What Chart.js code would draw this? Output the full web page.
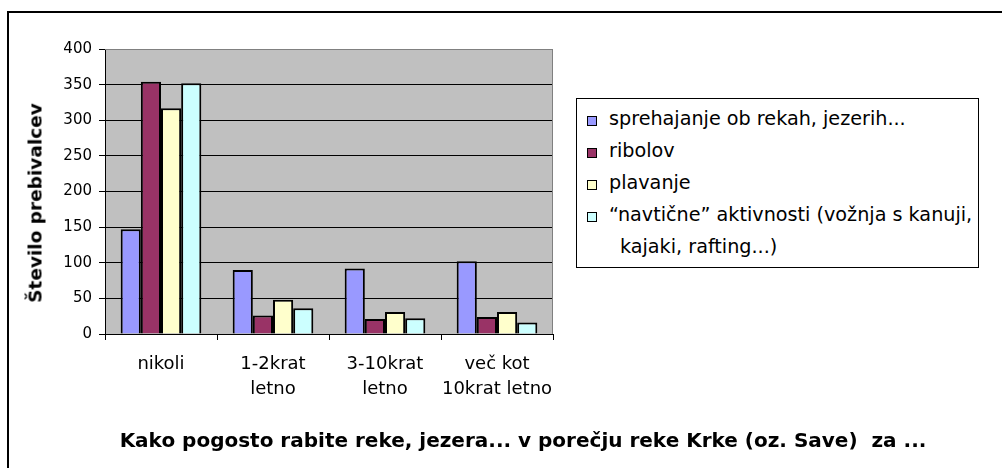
<!DOCTYPE html>
<html>
<head>
<meta charset="utf-8">
<script src="https://cdn.jsdelivr.net/npm/chart.js@4/dist/chart.umd.min.js"></script>
<style>
  body { margin: 0; background: #fff; overflow: hidden; }
  #wrap { position: relative; width: 1002px; height: 468px; overflow: hidden; font-family: "DejaVu Sans", sans-serif; }
  #frame { position: absolute; left: 7px; top: 11px; width: 2000px; height: 2000px; border: 2px solid #000; }
  #chart { position: absolute; left: 0; top: 0; }
  #legend { position: absolute; left: 576px; top: 98px; width: 403px; height: 170px; border: 1px solid #000; background: #fff; padding-top: 4px; box-sizing: border-box; }
  .leg-item { position: relative; padding-left: 32px; font-size: 19.2px; line-height: 32px; color: #000; white-space: nowrap; }
  .leg-box { position: absolute; left: 10px; top: 13px; width: 8px; height: 8px; border: 1px solid #000; }
  #xTitle { position: absolute; left: 0; width: 1046px; top: 428px; text-align: center; font-weight: bold; font-size: 20px; white-space: pre; }
  #yTitle { position: absolute; left: 35px; top: 203px; font-weight: bold; font-size: 18.5px; white-space: nowrap; transform: translate(-50%, -50%) rotate(-90deg); }
</style>
</head>
<body>
<div id="wrap">
  <div id="frame"></div>
  <canvas id="chart" width="1002" height="468"></canvas>
  <div id="legend"></div>
  <div id="xTitle"></div>
  <div id="yTitle"></div>
</div>
<script>
// DATA
var categories = ['nikoli', ['1-2krat', 'letno'], ['3-10krat', 'letno'], ['več kot', '10krat letno']];
var seriesNames = ['sprehajanje ob rekah, jezerih...', 'ribolov', 'plavanje', '“navtične” aktivnosti (vožnja s kanuji,\nkajaki, rafting...)'];
var sprehajanje = [147, 90, 92, 102];
var ribolov = [354, 26, 21, 24];
var plavanje = [317, 48, 31, 31];
var navticne = [352, 36, 22, 16];
var seriesColors = ['#9999FF', '#993366', '#FFFFCC', '#CCFFFF'];
var yTicks = [0, 50, 100, 150, 200, 250, 300, 350, 400];
var xTitleText = 'Kako pogosto rabite reke, jezera... v porečju reke Krke (oz. Save)  za ...';
var yTitleText = 'Število prebivalcev';

var seriesValues = [sprehajanje, ribolov, plavanje, navticne];

Chart.defaults.font.family = '"DejaVu Sans", sans-serif';
Chart.defaults.color = '#000';

// GRAY PLOT AREA WITH GRAY TOP/RIGHT EDGE
var plotArea = {
  id: 'plotArea',
  beforeDraw: function (chart) {
    var a = chart.chartArea;
    var ctx = chart.ctx;
    ctx.save();
    ctx.fillStyle = '#C0C0C0';
    ctx.fillRect(a.left, a.top, a.right - a.left, a.bottom - a.top);
    ctx.restore();
  },
  beforeDatasetsDraw: function (chart) {
    var a = chart.chartArea;
    var ctx = chart.ctx;
    ctx.save();
    ctx.strokeStyle = '#808080';
    ctx.lineWidth = 1;
    ctx.beginPath();
    ctx.moveTo(a.left, a.top + 0.5);
    ctx.lineTo(a.right - 0.5, a.top + 0.5);
    ctx.lineTo(a.right - 0.5, a.bottom);
    ctx.stroke();
    ctx.restore();
  }
};

var datasets = seriesValues.map(function (vals, i) {
  return {
    label: seriesNames[i],
    data: vals,
    backgroundColor: seriesColors[i],
    borderColor: '#000',
    borderWidth: 2,
    borderSkipped: 'start',
    categoryPercentage: 0.72,
    barPercentage: 1.0
  };
});

new Chart(document.getElementById('chart'), {
  type: 'bar',
  data: { labels: categories, datasets: datasets },
  plugins: [plotArea],
  options: {
    responsive: false,
    animation: false,
    layout: { padding: { left: 0, top: 49, right: 449, bottom: 0 } },
    plugins: { legend: { display: false }, tooltip: { enabled: false } },
    scales: {
      x: {
        afterFit: function (scale) { scale.height = 134; },
        grid: { drawOnChartArea: false, drawTicks: true, tickLength: 6, color: '#000' },
        border: { color: '#000', width: 1 },
        ticks: { font: { size: 18, lineHeight: 1.39 }, padding: 12, maxRotation: 0, autoSkip: false }
      },
      y: {
        min: 0,
        max: 400,
        afterFit: function (scale) { scale.width = 105; },
        afterBuildTicks: function (scale) {
          scale.ticks = yTicks.map(function (v) { return { value: v }; });
        },
        grid: {
          color: function (c) { return c.tick && c.tick.value === 400 ? '#808080' : '#000'; },
          tickColor: '#000',
          tickLength: 6,
          lineWidth: 1
        },
        border: { color: '#000', width: 1 },
        ticks: { font: { size: 15 }, padding: 7 }
      }
    }
  }
});

// LEGEND
var legendEl = document.getElementById('legend');
seriesNames.forEach(function (name, i) {
  var item = document.createElement('div');
  item.className = 'leg-item';
  var box = document.createElement('span');
  box.className = 'leg-box';
  box.style.background = seriesColors[i];
  item.appendChild(box);
  name.split('\n').forEach(function (line, k) {
    if (k > 0) item.appendChild(document.createElement('br'));
    var t = document.createElement('span');
    if (k > 0) t.style.paddingLeft = '11px';
    t.textContent = line;
    item.appendChild(t);
  });
  legendEl.appendChild(item);
});

document.getElementById('xTitle').textContent = xTitleText;
document.getElementById('yTitle').textContent = yTitleText;
</script>
</body>
</html>
